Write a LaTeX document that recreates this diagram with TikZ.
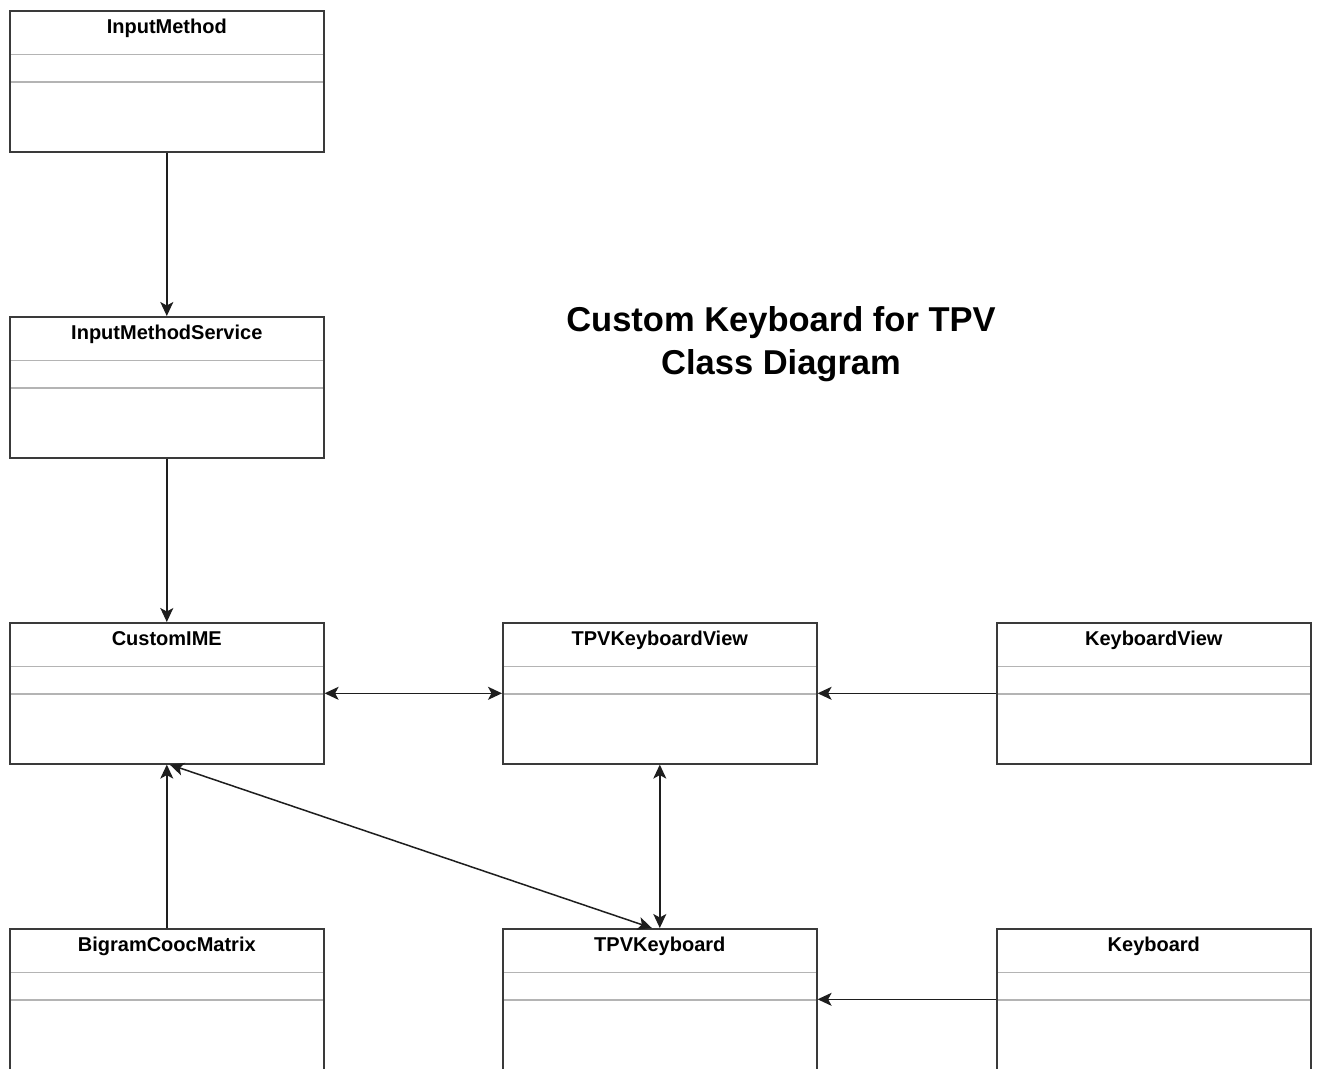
\documentclass[tikz,border=0pt]{standalone}
\usepackage{fontspec}
\setmainfont{Liberation Sans}
\usetikzlibrary{arrows.meta}
\definecolor{boxline}{HTML}{3A3A3A}
\definecolor{compline}{HTML}{B4B4B4}
\definecolor{linkline}{HTML}{1E1E1E}
\tikzset{
    classbox/.style={draw=boxline, line width=1.6pt, minimum width=314pt, minimum height=141pt, inner sep=0pt, anchor=north west},
    classname/.style={font=\bfseries\fontsize{20}{24}\selectfont, anchor=base},
    compart/.style={draw=compline, line width=1.5pt},
    assoc/.style={draw=linkline, line width=1.5pt, -{Stealth[length=14pt,width=13pt,inset=3.5pt]}},
    biassoc/.style={assoc, {Stealth[length=14pt,width=13pt,inset=3.5pt]}-{Stealth[length=14pt,width=13pt,inset=3.5pt]}}
}
\begin{document}
\begin{tikzpicture}[x=1pt,y=-1pt]
    \useasboundingbox (0,0) rectangle (1319,1068);
    \clip (0,0) rectangle (1319,1068);
    \fill[white] (0,0) rectangle (1319,1068);
    % class boxes
    \foreach \nm/\x/\y/\txt in {im/9/10/InputMethod, ims/9/316/InputMethodService, ime/9/622/CustomIME,
            bigram/9/928/BigramCoocMatrix, tpvview/502/622/TPVKeyboardView, tpvkb/502/928/TPVKeyboard,
            kbview/996/622/KeyboardView, kb/996/928/Keyboard}
        {
            \draw[compart] (\x,\y+44.5) -- (\x+314,\y+44.5);
            \draw[compart] (\x,\y+72) -- (\x+314,\y+72);
            \node[classbox] (\nm) at (\x,\y) {};
            \node[classname] (\nm-name) at ([yshift=-23pt]\nm.north) {\txt};
        }
    % title
    \node[font=\bfseries\fontsize{34.5}{43}\selectfont, align=center] (title) at (781,344) {Custom Keyboard for TPV\\Class Diagram};
    % connectors
    \draw[assoc] (im.south) -- (ims.north);
    \draw[assoc] (ims.south) -- (ime.north);
    \draw[biassoc] (ime.east) -- (tpvview.west);
    \draw[assoc] (kbview.west) -- (tpvview.east);
    \draw[biassoc] (tpvview.south) -- (tpvkb.north);
    \draw[biassoc] ([xshift=3pt]ime.south) -- ([xshift=-8pt]tpvkb.north);
    \draw[assoc] (bigram.north) -- (ime.south);
    \draw[assoc] (kb.west) -- (tpvkb.east);
\end{tikzpicture}
\end{document}
